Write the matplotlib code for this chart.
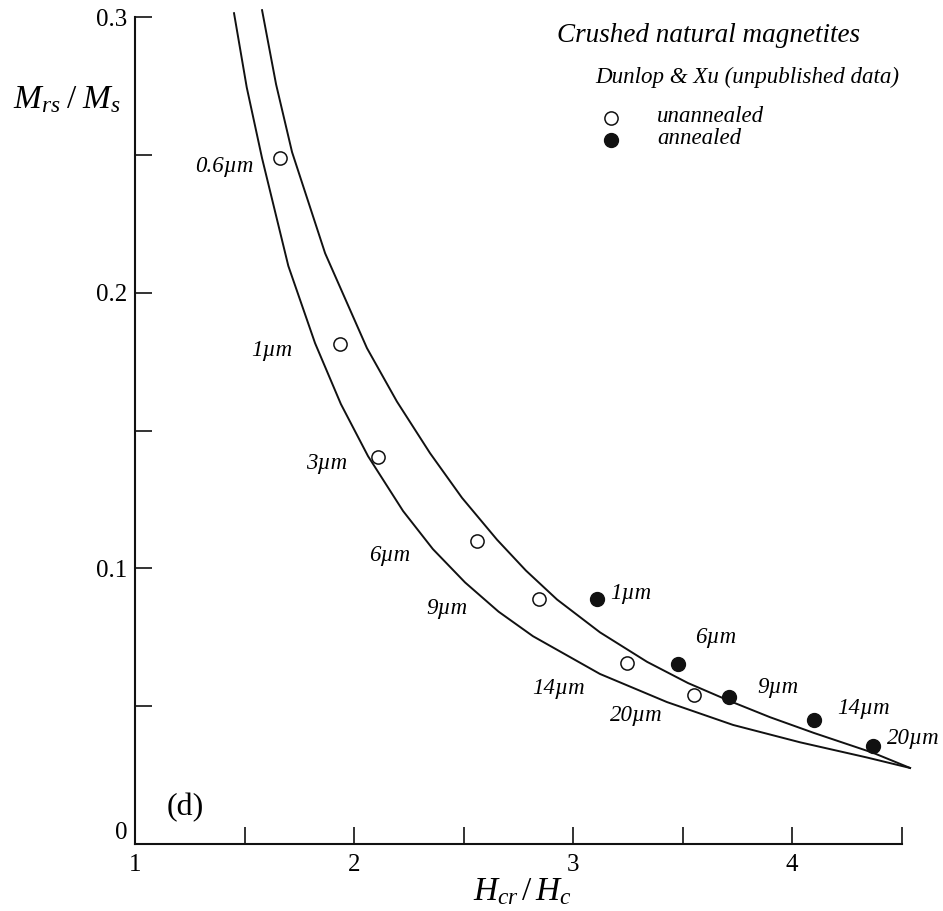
import matplotlib
matplotlib.use("Agg")
import matplotlib.pyplot as plt

plt.rcParams["font.family"] = ["Liberation Serif", "DejaVu Serif"]
plt.rcParams["mathtext.fontset"] = "custom"
plt.rcParams["mathtext.rm"] = "Liberation Serif"
plt.rcParams["mathtext.it"] = "Liberation Serif:italic"

# mixing curves
outer_x = [1.580, 1.644, 1.717, 1.868, 2.059, 2.196, 2.347, 2.493, 2.653, 2.785,
           2.927, 3.123, 3.338, 3.525, 3.712, 3.900, 4.100, 4.370, 4.539]
outer_y = [0.3025, 0.2756, 0.2510, 0.2143, 0.1799, 0.1605, 0.1418, 0.1256, 0.1104, 0.0992,
           0.0887, 0.0768, 0.0661, 0.0584, 0.0520, 0.0460, 0.0403, 0.0331, 0.0276]
inner_x = [1.452, 1.510, 1.580, 1.700, 1.822, 1.940, 2.064, 2.224, 2.360, 2.507,
           2.660, 2.817, 3.123, 3.429, 3.731, 4.037, 4.342, 4.539]
inner_y = [0.3014, 0.2745, 0.2488, 0.2097, 0.1817, 0.1596, 0.1407, 0.1208, 0.1070, 0.0949,
           0.0843, 0.0754, 0.0617, 0.0515, 0.0432, 0.0369, 0.0314, 0.0276]

# crushed magnetite data
unann_sizes = ["0.6µm", "1µm", "3µm", "6µm", "9µm", "14µm", "20µm"]
unann_x = [1.662, 1.936, 2.111, 2.560, 2.846, 3.245, 3.553]
unann_y = [0.2488, 0.1814, 0.1403, 0.1100, 0.0888, 0.0655, 0.0540]
ann_sizes = ["1µm", "6µm", "9µm", "14µm", "20µm"]
ann_x = [3.108, 3.481, 3.714, 4.100, 4.368]
ann_y = [0.0888, 0.0653, 0.0534, 0.0450, 0.0355]

# where the size labels sit
unann_lab_x = [1.539, 1.717, 1.968, 2.256, 2.516, 3.055, 3.411]
unann_lab_y = [0.2459, 0.1791, 0.1382, 0.1048, 0.0856, 0.0566, 0.0468]
ann_lab_x = [3.169, 3.557, 3.840, 4.206, 4.434]
ann_lab_y = [0.0910, 0.0751, 0.0569, 0.0493, 0.0384]

fig = plt.figure(figsize=(9.43, 9.11), dpi=100)
ax = fig.add_axes([0.1432, 0.0735, 0.956 - 0.1432, 0.9813 - 0.0735])

ink = "#111111"
lw = 1.4
ax.plot(outer_x, outer_y, color=ink, lw=lw, clip_on=False, solid_joinstyle="round")
ax.plot(inner_x, inner_y, color=ink, lw=lw, clip_on=False, solid_joinstyle="round")

ax.plot(unann_x, unann_y, "o", ms=9.5, mfc="white", mec=ink, mew=1.1, ls="none")
ax.plot(ann_x, ann_y, "o", ms=10, mfc=ink, mec=ink, ls="none")

lab_size = 16.5
for s, x, y in zip(unann_sizes, unann_lab_x, unann_lab_y):
    ax.text(x, y, s, ha="right", va="center", style="italic", fontsize=lab_size)
for s, x, y in zip(ann_sizes, ann_lab_x, ann_lab_y):
    ax.text(x, y, s, ha="left", va="center", style="italic", fontsize=lab_size)

ax.set_xlim(1, 4.5)
ax.set_ylim(0, 0.3)
for side in ("top", "right"):
    ax.spines[side].set_visible(False)
for side in ("left", "bottom"):
    ax.spines[side].set_linewidth(1.5)
    ax.spines[side].set_color(ink)

ax.set_xticks([1.5, 2, 2.5, 3, 3.5, 4, 4.5])
ax.set_xticklabels([""] * 7)
ax.set_yticks([0.05, 0.1, 0.15, 0.2, 0.25, 0.3])
ax.set_yticklabels([""] * 6)
ax.tick_params(direction="in", length=12, width=1.2, color=ink)

# tick numbers
tick_size = 18
for v in [1, 2, 3, 4]:
    ax.text(v, -0.0035, str(v), ha="center", va="top", fontsize=tick_size, clip_on=False)
for v, s in [(0.1, "0.1"), (0.2, "0.2"), (0.3, "0.3")]:
    ax.text(0.965, v - 0.001, s, ha="right", va="center", fontsize=tick_size, clip_on=False)
ax.text(0.965, 0.0, "0", ha="right", va="bottom", fontsize=tick_size, clip_on=False)

fig.text(522 / 943, 1 - 892 / 911, r"$H_{cr}\,/\,H_c$", ha="center", va="center", fontsize=24)
fig.text(67 / 943, 1 - 100 / 911, r"$M_{rs}\;/\;M_s$", ha="center", va="center", fontsize=24)

ax.text(1.145, 0.0134, "(d)", ha="left", va="center", fontsize=23)

fig.text(557 / 943, 1 - 35 / 911, "Crushed natural magnetites", ha="left", va="center",
         style="italic", fontsize=19.5)
fig.text(595 / 943, 1 - 77 / 911, "Dunlop & Xu (unpublished data)", ha="left", va="center",
         style="italic", fontsize=16.6)

# legend keys
ax.plot([611 / 943], [1 - 118 / 911], "o", ms=9.5, mfc="white", mec=ink, mew=1.1,
        transform=fig.transFigure, clip_on=False)
ax.plot([611 / 943], [1 - 140 / 911], "o", ms=10, mfc=ink, mec=ink,
        transform=fig.transFigure, clip_on=False)
fig.text(657 / 943, 1 - 116 / 911, "unannealed", ha="left", va="center", style="italic", fontsize=16.5)
fig.text(657 / 943, 1 - 139 / 911, "annealed", ha="left", va="center", style="italic", fontsize=16.5)

fig.savefig("out.png", dpi=100)
